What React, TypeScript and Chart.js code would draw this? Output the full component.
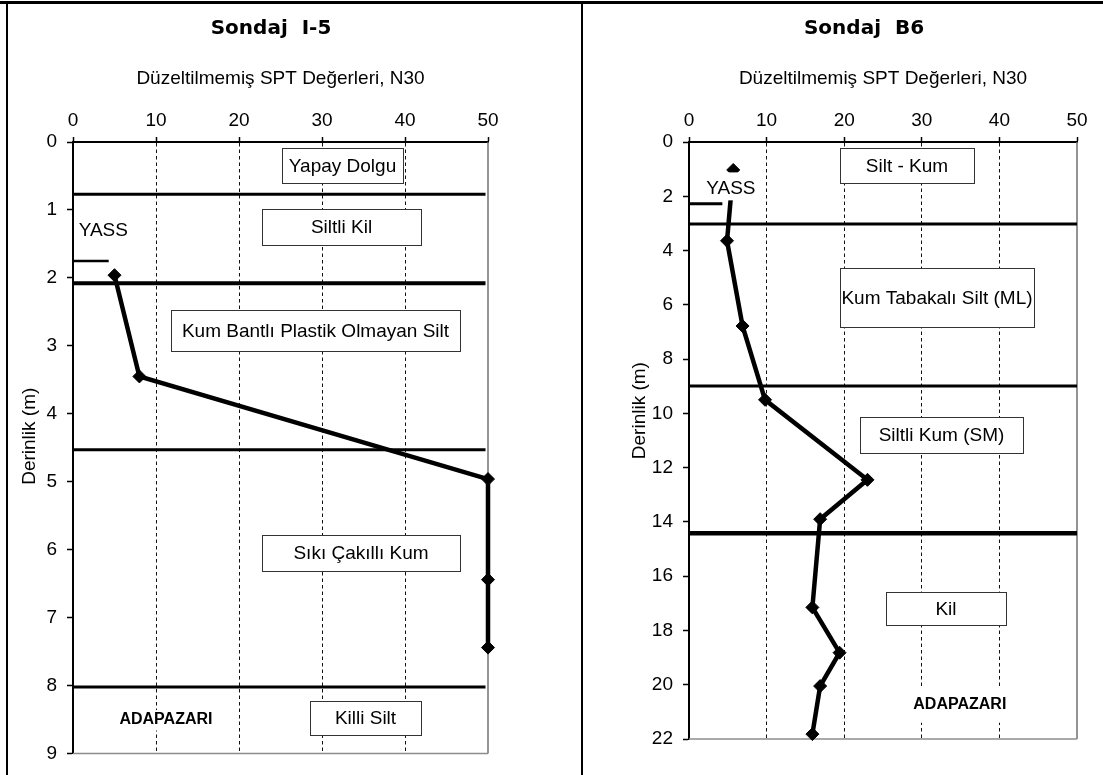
import React, { useEffect, useRef } from "react";
import { Chart, registerables } from "chart.js";

Chart.register(...registerables);

const FONT = "'Liberation Sans', Arial, sans-serif";
const TITLE_FONT = "'DejaVu Sans', 'Liberation Sans', sans-serif";

// ---------- shared axis data ----------
const xTickValues = [0, 10, 20, 30, 40, 50];
const xAxisTitle = "Düzeltilmemiş SPT Değerleri, N30";
const yAxisTitle = "Derinlik (m)";

// ---------- Sondaj I-5 ----------
const i5Title = "Sondaj  I-5";
const i5YTicks = [0, 1, 2, 3, 4, 5, 6, 7, 8, 9];
const i5SptN = [5, 8, 50, 50, 50];
const i5SptDepth = [1.96, 3.45, 4.96, 6.44, 7.44];
const i5LayerBoundaries = [0.77, 2.08, 4.53, 8.02];
const i5WaterTable = 1.75;
const i5SoilLabels = [
  "Yapay Dolgu",
  "Siltli Kil",
  "Kum Bantlı Plastik Olmayan Silt",
  "Sıkı Çakıllı Kum",
  "Killi Silt",
];
const i5Notes = ["YASS", "ADAPAZARI"];

// ---------- Sondaj B6 ----------
const b6Title = "Sondaj  B6";
const b6YTicks = [0, 2, 4, 6, 8, 10, 12, 14, 16, 18, 20, 22];
const b6SptN = [5.7, 4.9, 6.9, 9.8, 23, 16.9, 15.9, 19.4, 16.9, 15.9];
const b6SptDepth = [1.03, 3.64, 6.78, 9.5, 12.45, 13.9, 17.15, 18.82, 20.05, 21.82];
const b6LayerBoundaries = [3.02, 8.99, 14.42];
const b6WaterTable = 2.28;
const b6SoilLabels = ["Silt - Kum", "Kum Tabakalı Silt (ML)", "Siltli Kum (SM)", "Kil"];
const b6Notes = ["YASS", "ADAPAZARI"];

// ---------- layout / styles (positions in axis units) ----------
const I5_LAYOUT = {
  canvasLeft: 0,
  canvasWidth: 580,
  padding: { left: 33, right: 71, top: 0, bottom: 18 },
  yAxisWidth: 40,
  rightSpacer: 21,
  yMax: 9,
  layerWidths: [3, 4, 3, 3],
  layerEnd: 49.7,
  yassEnd: 4.3,
  yassWidth: 2.5,
  boxes: [
    { x0: 25.15, x1: 39.8, y0: 0.09, y1: 0.6 },
    { x0: 22.8, x1: 41.9, y0: 0.985, y1: 1.52 },
    { x0: 11.8, x1: 46.6, y0: 2.47, y1: 3.08 },
    { x0: 22.8, x1: 46.6, y0: 5.78, y1: 6.31 },
    { x0: 28.5, x1: 41.9, y0: 8.22, y1: 8.72 },
  ],
  notes: [
    { tx: 3.65, ty: 1.3, bold: false, bg: null },
    { tx: 11.2, ty: 8.5, bold: true, bg: { x0: 4.5, x1: 17.8, y0: 8.36, y1: 8.66 } },
  ],
  yTitle: { dx: -43.5, depth: 4.33 },
};

const B6_LAYOUT = {
  canvasLeft: 583,
  canvasWidth: 520,
  padding: { left: 66, right: 24, top: 0, bottom: 36 },
  yAxisWidth: 40,
  rightSpacer: 2,
  yMax: 22,
  layerWidths: [3, 3, 4.5],
  layerEnd: 50,
  yassEnd: 4.3,
  yassWidth: 3,
  boxes: [
    { x0: 19.5, x1: 36.7, y0: 0.21, y1: 1.5 },
    { x0: 19.5, x1: 44.4, y0: 4.65, y1: 6.8 },
    { x0: 22.1, x1: 43.1, y0: 10.14, y1: 11.45 },
    { x0: 25.4, x1: 40.8, y0: 16.6, y1: 17.8 },
  ],
  notes: [
    { tx: 5.4, ty: 1.71, bold: false, bg: { x0: 2.2, x1: 8.6, y0: 1.12, y1: 2.15 } },
    { tx: 34.9, ty: 20.75, bold: true, bg: { x0: 28.3, x1: 41.5, y0: 20.1, y1: 21.4 } },
  ],
  yTitle: { dx: -49, depth: 9.9 },
};

const CHART_TOP = 142;

const soilPlugin = {
  id: "soilAnnot",
  beforeDatasetsDraw(chart: any) {
    const { ctx, chartArea } = chart;
    ctx.save();
    ctx.lineWidth = 1.5;
    ctx.strokeStyle = "#707070";
    ctx.beginPath();
    ctx.moveTo(chartArea.right, chartArea.top);
    ctx.lineTo(chartArea.right, chartArea.bottom);
    ctx.stroke();
    ctx.strokeStyle = "#8c8c8c";
    ctx.beginPath();
    ctx.moveTo(chartArea.left, chartArea.bottom);
    ctx.lineTo(chartArea.right, chartArea.bottom);
    ctx.stroke();
    ctx.restore();
  },
  afterDatasetsDraw(chart: any, _args: any, opts: any) {
    const { ctx } = chart;
    const xs = chart.scales.x;
    const ys = chart.scales.y;
    ctx.save();
    ctx.textAlign = "center";
    ctx.textBaseline = "middle";
    // soil layer label boxes
    opts.boxes.forEach((b: any, i: number) => {
      const l = Math.round(xs.getPixelForValue(b.x0));
      const r = Math.round(xs.getPixelForValue(b.x1));
      const t = Math.round(ys.getPixelForValue(b.y0));
      const bt = Math.round(ys.getPixelForValue(b.y1));
      ctx.fillStyle = "#fff";
      ctx.fillRect(l, t, r - l, bt - t);
      ctx.strokeStyle = "#333";
      ctx.lineWidth = 1;
      ctx.strokeRect(l + 0.5, t + 0.5, r - l, bt - t);
      ctx.fillStyle = "#000";
      ctx.font = `19px ${FONT}`;
      ctx.fillText(opts.labels[i], (l + r) / 2, (t + bt) / 2 + 1);
    });
    // notes
    opts.notes.forEach((n: any, i: number) => {
      if (n.bg) {
        const l = xs.getPixelForValue(n.bg.x0);
        const r = xs.getPixelForValue(n.bg.x1);
        const t = ys.getPixelForValue(n.bg.y0);
        const bt = ys.getPixelForValue(n.bg.y1);
        ctx.fillStyle = "#fff";
        ctx.fillRect(l, t, r - l, bt - t);
      }
      ctx.fillStyle = "#000";
      ctx.font = n.bold ? `bold 16px ${FONT}` : `19px ${FONT}`;
      ctx.fillText(opts.noteTexts[i], xs.getPixelForValue(n.tx), ys.getPixelForValue(n.ty));
    });
    // y axis title
    const yt = opts.yTitle;
    ctx.translate(chart.chartArea.left + yt.dx, ys.getPixelForValue(yt.depth));
    ctx.rotate(-Math.PI / 2);
    ctx.font = `19px ${FONT}`;
    ctx.fillStyle = "#000";
    ctx.fillText(opts.yTitleText, 0, 0);
    ctx.restore();
  },
};

function buildConfig(
  title: string,
  sptN: number[],
  sptDepth: number[],
  layers: number[],
  water: number,
  yTicks: number[],
  labels: string[],
  notes: string[],
  L: any
): any {
  const layerSets = layers.map((d, i) => ({
    data: [
      { x: 0, y: d },
      { x: L.layerEnd, y: d },
    ],
    showLine: true,
    borderColor: "#000",
    borderWidth: L.layerWidths[i],
    pointRadius: 0,
    clip: false,
  }));
  const yassSet = {
    data: [
      { x: 0, y: water },
      { x: L.yassEnd, y: water },
    ],
    showLine: true,
    borderColor: "#000",
    borderWidth: L.yassWidth,
    pointRadius: 0,
    clip: false,
  };
  const sptSet = {
    data: sptN.map((n, i) => ({ x: n, y: sptDepth[i] })),
    showLine: true,
    borderColor: "#000",
    backgroundColor: "#000",
    borderWidth: 4.5,
    pointStyle: "rectRot",
    pointRadius: 6.5,
    pointBorderWidth: 1,
    pointBackgroundColor: "#000",
    pointBorderColor: "#000",
    clip: false,
  };
  return {
    type: "scatter",
    data: { datasets: [...layerSets, yassSet, sptSet] },
    plugins: [soilPlugin],
    options: {
      responsive: false,
      animation: false,
      events: [],
      layout: { padding: L.padding },
      font: { family: FONT },
      color: "#000",
      plugins: {
        legend: { display: false },
        tooltip: { enabled: false },
        title: {
          display: true,
          text: title,
          color: "#000",
          font: { family: TITLE_FONT, size: 20, weight: "bold", lineHeight: 1.2 },
          padding: { top: 16.5, bottom: 0 },
        },
        soilAnnot: {
          boxes: L.boxes,
          labels,
          notes: L.notes,
          noteTexts: notes,
          yTitle: L.yTitle,
          yTitleText: yAxisTitle,
        },
      },
      scales: {
        x: {
          type: "linear",
          position: "top",
          min: 0,
          max: 50,
          afterBuildTicks: (s: any) => {
            s.ticks = xTickValues.map((v) => ({ value: v }));
          },
          afterFit: (s: any) => {
            const th = s.chart.titleBlock ? s.chart.titleBlock.height : 40.5;
            s.height = CHART_TOP - L.padding.top - th;
          },
          ticks: {
            color: "#000",
            font: { family: FONT, size: 19 },
            padding: 5,
            maxRotation: 0,
            autoSkip: false,
          },
          grid: {
            display: true,
            drawOnChartArea: true,
            drawTicks: true,
            tickLength: 5,
            lineWidth: 1,
            tickWidth: 1.5,
            tickColor: "#000",
            color: (c: any) =>
              c.tick && (c.tick.value === 0 || c.tick.value === 50) ? "rgba(0,0,0,0)" : "#111",
          },
          border: { display: true, color: "#000", width: 2, dash: [3.5, 3] },
          title: {
            display: true,
            text: xAxisTitle,
            color: "#000",
            font: { family: FONT, size: 19, lineHeight: 1.2 },
            padding: { top: 27, bottom: 0 },
          },
        },
        y: {
          type: "linear",
          position: "left",
          reverse: true,
          min: 0,
          max: L.yMax,
          afterBuildTicks: (s: any) => {
            s.ticks = yTicks.map((v) => ({ value: v }));
          },
          afterFit: (s: any) => {
            s.width = L.yAxisWidth;
          },
          ticks: {
            color: "#000",
            font: { family: FONT, size: 19 },
            padding: 10,
            autoSkip: false,
          },
          grid: {
            display: true,
            drawOnChartArea: false,
            drawTicks: true,
            tickLength: 6,
            tickWidth: 1.5,
            tickColor: "#000",
          },
          border: { display: true, color: "#000", width: 2 },
          title: { display: false },
        },
        yR: {
          type: "linear",
          position: "right",
          display: true,
          min: 0,
          max: L.yMax,
          afterFit: (s: any) => {
            s.width = L.rightSpacer;
          },
          ticks: { display: false },
          grid: { display: false, drawTicks: false },
          border: { display: false },
          title: { display: false },
        },
      },
    },
  };
}

function SoilChart({ config, left, width }: { config: () => any; left: number; width: number }) {
  const ref = useRef<HTMLCanvasElement>(null);
  useEffect(() => {
    const chart = new Chart(ref.current as HTMLCanvasElement, config());
    return () => chart.destroy();
  }, []);
  return (
    <canvas
      ref={ref}
      width={width}
      height={775}
      style={{ position: "absolute", left, top: 0, width, height: 775, display: "block" }}
    />
  );
}

export default function App() {
  return (
    <div
      style={{
        position: "fixed",
        left: 0,
        top: 0,
        width: 1103,
        height: 775,
        background: "#fff",
        overflow: "hidden",
      }}
    >
      <SoilChart
        left={I5_LAYOUT.canvasLeft}
        width={I5_LAYOUT.canvasWidth}
        config={() =>
          buildConfig(i5Title, i5SptN, i5SptDepth, i5LayerBoundaries, i5WaterTable, i5YTicks, i5SoilLabels, i5Notes, I5_LAYOUT)
        }
      />
      <SoilChart
        left={B6_LAYOUT.canvasLeft}
        width={B6_LAYOUT.canvasWidth}
        config={() =>
          buildConfig(b6Title, b6SptN, b6SptDepth, b6LayerBoundaries, b6WaterTable, b6YTicks, b6SoilLabels, b6Notes, B6_LAYOUT)
        }
      />
      <div style={{ position: "absolute", left: 0, top: 1, width: 1103, height: 3, background: "#000" }} />
      <div style={{ position: "absolute", left: 6, top: 1, width: 2, height: 774, background: "#000" }} />
      <div style={{ position: "absolute", left: 581, top: 1, width: 2, height: 774, background: "#000" }} />
    </div>
  );
}
